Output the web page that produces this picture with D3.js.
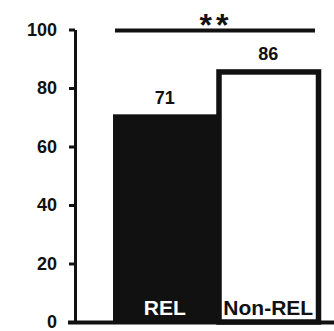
<!DOCTYPE html>
<html><head><meta charset="utf-8">
<script src="https://cdn.jsdelivr.net/npm/d3@7"></script>
<style>body{margin:0;background:#fff}svg{display:block}text{font-family:Arial,"Liberation Sans",sans-serif}</style>
</head><body><svg id="c" width="334" height="331"></svg>
<script>
const categories = ["REL", "Non-REL"];
const values = [71, 86];
const yTicks = [0, 20, 40, 60, 80, 100];
const sigLabel = "**";

const svg = d3.select("#c");
const y = d3.scaleLinear().domain([0, 100]).range([322, 29.5]);
const x = d3.scaleBand().domain(categories).range([113, 320]).padding(0);

// bars
const fills = ["#111111", "#ffffff"];
svg.selectAll("rect.bar").data(categories).enter().append("rect")
  .attr("class", "bar")
  .attr("x", (d, i) => i === 0 ? x(d) : x(d) + 2.5)
  .attr("width", (d, i) => i === 0 ? x.bandwidth() + 2 : x.bandwidth() - 4)
  .attr("y", (d, i) => i === 0 ? y(values[i]) : y(values[i]) + 1.5)
  .attr("height", (d, i) => i === 0 ? y(0) - y(values[i]) : y(0) - y(values[i]) - 1.5)
  .attr("fill", (d, i) => fills[i])
  .attr("stroke", (d, i) => i === 0 ? "none" : "#111")
  .attr("stroke-width", 5.5);

// value labels
svg.selectAll("text.val").data(categories).enter().append("text")
  .attr("class", "val")
  .attr("x", d => x(d) + x.bandwidth() / 2)
  .attr("y", (d, i) => y(values[i]) - 10)
  .attr("text-anchor", "middle")
  .attr("font-size", 18)
  .attr("font-weight", "bold")
  .attr("fill", "#111")
  .text((d, i) => values[i]);

// category labels inside bars
svg.selectAll("text.cat").data(categories).enter().append("text")
  .attr("class", "cat")
  .attr("x", d => x(d) + x.bandwidth() / 2)
  .attr("y", 315)
  .attr("text-anchor", "middle")
  .attr("font-size", 21)
  .attr("font-weight", "bold")
  .attr("fill", (d, i) => i === 0 ? "#fff" : "#111")
  .text(d => d);

// y axis
const ay = svg.append("g").attr("transform", "translate(75,0)")
  .call(d3.axisLeft(y).tickValues(yTicks).tickSize(6).tickSizeOuter(0).tickPadding(12));
ay.select(".domain").attr("stroke", "#111").attr("stroke-width", 3);
ay.selectAll(".tick line").attr("stroke", "#111").attr("stroke-width", 3);
ay.selectAll(".tick text").attr("font-size", 18).attr("font-weight", "bold")
  .attr("font-family", "Arial, Liberation Sans, sans-serif").attr("fill", "#111");

// x axis baseline
svg.append("line").attr("x1", 68).attr("x2", 334).attr("y1", y(0) + 0.5).attr("y2", y(0) + 0.5)
  .attr("stroke", "#111").attr("stroke-width", 4);

// significance bracket
svg.append("line").attr("x1", 115).attr("x2", 315).attr("y1", 30.5).attr("y2", 30.5)
  .attr("stroke", "#111").attr("stroke-width", 4);
svg.append("text").attr("x", 216).attr("y", 36).attr("text-anchor", "middle")
  .attr("font-size", 32).attr("font-weight", "bold").attr("fill", "#111")
  .attr("letter-spacing", 4).text(sigLabel);
</script></body></html>
